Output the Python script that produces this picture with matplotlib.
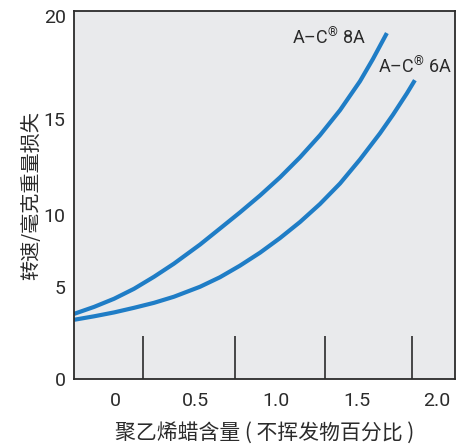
import numpy as np
import matplotlib.pyplot as plt
from matplotlib.ticker import FixedLocator, NullFormatter

# data
x_8a = [-0.255, -0.130, -0.006, 0.118, 0.242, 0.366, 0.528, 0.652, 0.776, 0.901,
        1.025, 1.149, 1.273, 1.398, 1.522, 1.602, 1.689]
y_8a = [3.53, 3.91, 4.35, 4.89, 5.69, 6.60, 7.92, 9.03, 10.11, 11.00,
        11.95, 13.00, 14.16, 15.44, 16.84, 17.91, 19.17]
x_6a = [-0.255, -0.130, -0.006, 0.118, 0.242, 0.366, 0.528, 0.652, 0.776, 0.901,
        1.025, 1.149, 1.273, 1.398, 1.522, 1.646, 1.727, 1.814, 1.863]
y_6a = [3.21, 3.40, 3.61, 3.86, 4.13, 4.46, 5.00, 5.66, 6.46, 7.36,
        8.37, 9.48, 10.55, 11.63, 12.89, 14.26, 15.22, 16.26, 16.89]

xticks = [0, 0.5, 1.0, 1.5, 2.0]
xticklabels = ["0", "0.5", "1.0", "1.5", "2.0"]
yticks = [0, 5, 10, 15, 20]

# the original y axis is unevenly spaced
y_vals = [-5, 0, 5, 10, 15, 20, 25]
y_pos = [-92, 0, 92, 164, 259, 362, 465]

def fwd(v):
    return np.interp(v, y_vals, y_pos)

def inv(h):
    return np.interp(h, y_pos, y_vals)

plt.rcParams["mathtext.fontset"] = "custom"
plt.rcParams["mathtext.rm"] = "Roboto"

cjk = ["Noto Sans CJK SC", "DejaVu Sans"]
num_font = ["Roboto", "Liberation Sans", "DejaVu Sans"]
txt = "#2b2b2b"
blue = "#1f7dc6"

fig = plt.figure(figsize=(4.7, 4.47), dpi=100)
ax = fig.add_axes([0.1574, 0.152, 0.8106, 0.823])
ax.set_facecolor("#e9eaec")

ax.plot(x_8a, y_8a, color=blue, lw=3, solid_capstyle="butt", solid_joinstyle="round")
ax.plot(x_6a, y_6a, color=blue, lw=3, solid_capstyle="butt", solid_joinstyle="round")

ax.set_yscale("function", functions=(fwd, inv))
ax.set_xlim(-0.255, 2.112)
ax.set_ylim(0, 20.23)

ax.xaxis.set_major_locator(FixedLocator(xticks))
ax.set_xticklabels(xticklabels, family=num_font, fontsize=14, color=txt)
ax.xaxis.set_minor_locator(FixedLocator([0.175, 0.745, 1.305, 1.845]))
ax.xaxis.set_minor_formatter(NullFormatter())
ax.tick_params(axis="x", which="major", length=0, pad=9)
ax.tick_params(axis="x", which="minor", length=31, width=1.2, direction="in", color=txt)

ax.yaxis.set_major_locator(FixedLocator(yticks))
ax.set_yticklabels([str(t) for t in yticks], family=num_font, fontsize=14, color=txt)
ax.yaxis.set_minor_locator(FixedLocator([10, 15]))
ax.yaxis.set_minor_formatter(NullFormatter())
ax.tick_params(axis="y", which="major", length=0, pad=6)
ax.tick_params(axis="y", which="minor", length=23, width=1.2, direction="in", color=txt)

for s in ax.spines.values():
    s.set_color(txt)
    s.set_linewidth(1.3)

ax.set_xlabel("聚乙烯蜡含量 ( 不挥发物百分比 )", family=cjk, fontsize=15,
              fontweight="light", color=txt, labelpad=9)
ax.set_ylabel("转速/毫克重量损失", family=cjk, fontsize=14.5,
              fontweight="light", color=txt, labelpad=1)

ax.text(1.1, 18.93, r"A–C$\mathregular{^{®}}$ 8A", family=num_font,
        fontsize=13, color=txt, va="center")
ax.text(1.633, 17.52, r"A–C$\mathregular{^{®}}$ 6A", family=num_font,
        fontsize=13, color=txt, va="center")

fig.savefig("out.png", dpi=100)
